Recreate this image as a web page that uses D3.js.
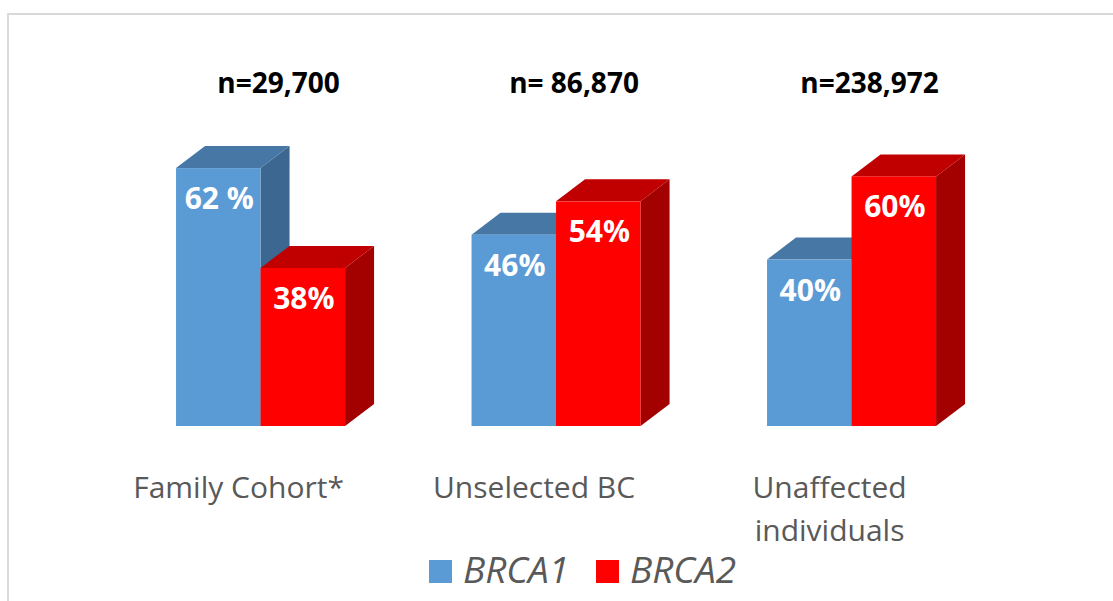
<!DOCTYPE html>
<html>
<head>
<meta charset="utf-8">
<script src="https://cdn.jsdelivr.net/npm/d3@7"></script>
<style>
  html, body { margin: 0; padding: 0; background: #fff; }
  svg { display: block; font-family: "Open Sans", sans-serif; }
</style>
</head>
<body>
<div id="chart"></div>
<script>
// data
const categories = ['Family Cohort*', 'Unselected BC', 'Unaffected individuals'];
const series = ['BRCA1', 'BRCA2'];
const brca1 = [62, 46, 40];
const brca2 = [38, 54, 60];
const valueLabels1 = ['62 %', '46%', '40%'];
const valueLabels2 = ['38%', '54%', '60%'];
const nLabels = ['n=29,700', 'n= 86,870', 'n=238,972'];

const width = 1113, height = 601;
const depthX = 29, depthY = 22;

const palette = {
  BRCA1: { front: '#5b9bd5', top: '#4677a5', side: '#3b6790' },
  BRCA2: { front: '#ff0000', top: '#c00000', side: '#a30000' }
};

const svg = d3.select('#chart')
  .append('svg')
  .attr('width', width)
  .attr('height', height);

// chart frame (only top and left edges visible in the crop)
svg.append('rect')
  .attr('x', 8).attr('y', 14)
  .attr('width', 1200).attr('height', 700)
  .attr('fill', 'none')
  .attr('stroke', '#d9d9d9')
  .attr('stroke-width', 2);

const x = d3.scaleBand()
  .domain(categories)
  .range([112.8, 999.3])
  .paddingInner(0.428)
  .paddingOuter(0.214);

const xs = d3.scaleBand()
  .domain(series)
  .range([0, x.bandwidth()]);

const y = d3.scaleLinear()
  .domain([0, 100])
  .range([426, 10]);

const rows = categories.map((c, i) => ({
  cat: c,
  n: nLabels[i],
  bars: [
    { key: 'BRCA1', value: brca1[i], label: valueLabels1[i] },
    { key: 'BRCA2', value: brca2[i], label: valueLabels2[i] }
  ]
}));

const groups = svg.selectAll('g.group')
  .data(rows)
  .enter()
  .append('g')
  .attr('class', 'group')
  .attr('transform', d => `translate(${x(d.cat)},0)`);

const bars = groups.selectAll('g.bar')
  .data(d => d.bars)
  .enter()
  .append('g')
  .attr('class', 'bar');

function pts(arr) { return arr.map(p => p.join(',')).join(' '); }

bars.each(function(d) {
  const g = d3.select(this);
  const x0 = xs(d.key), x1 = x0 + xs.bandwidth();
  const top = y(d.value), base = y(0);
  // side face
  g.append('polygon')
    .attr('points', pts([[x1, top], [x1 + depthX, top - depthY], [x1 + depthX, base - depthY], [x1, base]]))
    .attr('fill', palette[d.key].side);
  // top face
  g.append('polygon')
    .attr('points', pts([[x0, top], [x0 + depthX, top - depthY], [x1 + depthX, top - depthY], [x1, top]]))
    .attr('fill', palette[d.key].top);
  // front face
  g.append('rect')
    .attr('x', x0).attr('y', top)
    .attr('width', xs.bandwidth())
    .attr('height', base - top)
    .attr('fill', palette[d.key].front);
  g.append('text')
    .attr('x', x0 + xs.bandwidth() / 2 + 1)
    .attr('y', top + 41)
    .attr('text-anchor', 'middle')
    .attr('fill', '#fff')
    .attr('font-weight', 'bold')
    .attr('font-size', 30)
    .text(d.label);
});

// n= labels above each group
groups.append('text')
  .attr('x', x.bandwidth() / 2 + 18)
  .attr('y', 93)
  .attr('text-anchor', 'middle')
  .attr('font-weight', 'bold')
  .attr('font-size', 28)
  .attr('fill', '#000')
  .text(d => d.n);

// category labels (wrapped like the original)
const catLines = { 'Unaffected individuals': ['Unaffected', 'individuals'] };
groups.append('text')
  .attr('y', 498)
  .attr('text-anchor', 'middle')
  .attr('font-size', 30)
  .attr('fill', '#595959')
  .selectAll('tspan')
  .data(d => catLines[d.cat] || [d.cat])
  .enter()
  .append('tspan')
  .attr('x', x.bandwidth() / 2 - 22)
  .attr('dy', (d, i) => i === 0 ? 0 : 43)
  .text(d => d);

// legend
const legend = svg.append('g').attr('transform', 'translate(429,560)');
const items = legend.selectAll('g')
  .data(series)
  .enter()
  .append('g')
  .attr('transform', (d, i) => `translate(${i * 167},0)`);
items.append('rect')
  .attr('width', 23).attr('height', 23)
  .attr('fill', d => palette[d].front);
items.append('text')
  .attr('x', 34).attr('y', 23)
  .attr('font-style', 'italic')
  .attr('font-size', 37)
  .attr('fill', '#595959')
  .text(d => d);
</script>
</body>
</html>
